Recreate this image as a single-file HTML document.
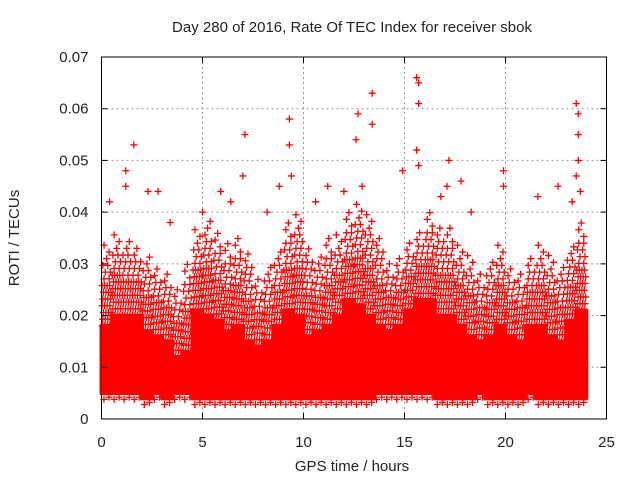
<!DOCTYPE html>
<html><head><meta charset="utf-8"><style>
body{margin:0;background:#fff;}
svg{display:block;font-family:"Liberation Sans",sans-serif;}
</style></head><body>
<svg id="c" width="640" height="480">
<text x="352" y="32" font-size="15" text-anchor="middle" fill="#222">Day 280 of 2016, Rate Of TEC Index for receiver sbok</text>
<text x="352" y="471" font-size="15" text-anchor="middle" fill="#222">GPS time / hours</text>
<text transform="translate(19,238) rotate(-90)" font-size="15" text-anchor="middle" fill="#222">ROTI / TECUs</text>
<g id="grid"></g><g id="marks"></g><g id="axes"></g>
</svg>
<script>
const xTicks=[0,5,10,15,20,25];
const yTicks=[0,0.01,0.02,0.03,0.04,0.05,0.06,0.07];
const yTickLabels=["0","0.01","0.02","0.03","0.04","0.05","0.06","0.07"];
// half-hour bins 0..23.5
const binStart=[0,0.5,1,1.5,2,2.5,3,3.5,4,4.5,5,5.5,6,6.5,7,7.5,8,8.5,9,9.5,10,10.5,11,11.5,12,12.5,13,13.5,14,14.5,15,15.5,16,16.5,17,17.5,18,18.5,19,19.5,20,20.5,21,21.5,22,22.5,23,23.5];
const bandLow=[0.005,0.005,0.005,0.005,0.004,0.005,0.004,0.005,0.005,0.004,0.004,0.004,0.004,0.004,0.004,0.004,0.004,0.004,0.004,0.004,0.004,0.004,0.004,0.004,0.004,0.004,0.004,0.005,0.005,0.005,0.005,0.005,0.005,0.004,0.004,0.004,0.004,0.005,0.004,0.004,0.004,0.004,0.005,0.004,0.004,0.004,0.004,0.004];
const solidTop=[0.018,0.020,0.020,0.020,0.017,0.016,0.015,0.012,0.013,0.021,0.020,0.019,0.017,0.018,0.015,0.014,0.015,0.018,0.021,0.020,0.016,0.017,0.018,0.020,0.023,0.022,0.020,0.018,0.017,0.018,0.021,0.023,0.023,0.020,0.020,0.018,0.016,0.015,0.016,0.018,0.016,0.015,0.018,0.018,0.016,0.015,0.019,0.021];
const sparseTop=[0.034,0.036,0.035,0.034,0.032,0.030,0.028,0.025,0.030,0.037,0.039,0.036,0.034,0.035,0.033,0.028,0.030,0.033,0.038,0.040,0.034,0.032,0.035,0.036,0.040,0.042,0.040,0.036,0.030,0.031,0.034,0.037,0.040,0.038,0.037,0.034,0.032,0.029,0.031,0.034,0.030,0.028,0.031,0.034,0.032,0.030,0.034,0.038];
const outT=[0.4,1.2,1.2,1.6,2.3,2.8,3.4,5.0,5.9,6.4,7.1,7.0,8.8,9.3,9.3,9.4,11.2,12.0,12.7,12.6,12.9,13.4,13.4,15.6,15.7,15.7,15.6,15.7,14.9,17.2,17.1,17.8,19.9,19.9,21.6,22.6,23.5,23.6,23.6,23.6,23.5,23.7,23.3,8.2,10.6,16.8,18.3];
const outV=[0.042,0.048,0.045,0.053,0.044,0.044,0.038,0.040,0.044,0.042,0.055,0.047,0.045,0.058,0.053,0.047,0.045,0.044,0.059,0.054,0.045,0.063,0.057,0.066,0.065,0.061,0.052,0.049,0.048,0.050,0.045,0.046,0.048,0.045,0.043,0.045,0.061,0.059,0.055,0.050,0.047,0.044,0.042,0.040,0.042,0.043,0.040];

const X0=101.5,X1=606.5,Y0=419,Y1=57;
const xs=t=>X0+(t-0)/25*(X1-X0);
const ys=v=>Y0-(v-0)/0.07*(Y0-Y1);
const NS="http://www.w3.org/2000/svg";
function mk(tag,attrs,parent){const e=document.createElementNS(NS,tag);for(const k in attrs)e.setAttribute(k,attrs[k]);parent.appendChild(e);return e;}
const grid=document.getElementById('grid'),marks=document.getElementById('marks'),axes=document.getElementById('axes');
xTicks.forEach((t,i)=>{
  if(i>0&&i<xTicks.length-1){const l=mk('line',{x1:xs(t),x2:xs(t),y1:Y0,y2:Y1,stroke:'#999','stroke-dasharray':'2,3'},grid);
  
  }
  const tx=mk('text',{x:xs(t),y:Y0+28,'font-size':15,'text-anchor':'middle',fill:'#222'},axes);tx.textContent=t;
  
  
  mk('line',{x1:xs(t),x2:xs(t),y1:Y0,y2:Y0-6,stroke:'#000'},axes);
  mk('line',{x1:xs(t),x2:xs(t),y1:Y1,y2:Y1+6,stroke:'#000'},axes);
});
yTicks.forEach((v,i)=>{
  if(i>0&&i<yTicks.length-1){const l=mk('line',{x1:X0,x2:X1,y1:ys(v),y2:ys(v),stroke:'#999','stroke-dasharray':'2,3'},grid);
  
  }
  const tx=mk('text',{x:X0-13,y:ys(v)+5,'font-size':15,'text-anchor':'end',fill:'#222'},axes);tx.textContent=yTickLabels[i];
  
  
  mk('line',{x1:X0,x2:X0+6,y1:ys(v),y2:ys(v),stroke:'#000'},axes);
  mk('line',{x1:X1,x2:X1-6,y1:ys(v),y2:ys(v),stroke:'#000'},axes);
});
const frame=mk('rect',{x:X0,y:Y1,width:X1-X0,height:Y0-Y1,fill:'none',stroke:'#000','stroke-width':1},axes);



function cross(t,v){
  const x=xs(t),y=ys(v);
  const p=mk('path',{d:`M${x-3.5},${y}h7M${x},${y-3.5}v7`,stroke:'#f00','stroke-width':1.3},marks);
  
  
}
// dense band
let pts=[];
binStart.forEach((t,i)=>{pts.push([xs(t),ys(solidTop[i])]);pts.push([xs(t+0.5),ys(solidTop[i])]);});
for(let i=binStart.length-1;i>=0;i--){pts.push([xs(binStart[i]+0.5),ys(bandLow[i])]);pts.push([xs(binStart[i]),ys(bandLow[i])]);}
const band=mk('polygon',{points:pts.map(p=>p.join(',')).join(' '),fill:'#f00',stroke:'#f00','stroke-width':4,'stroke-linejoin':'round'},marks);


binStart.forEach((t,i)=>{
  let k=0;
  const mid=(solidTop[i]+sparseTop[i])/2;
  for(let v=solidTop[i];v<=sparseTop[i];v+=0.0013){
    const n=v>mid?(v>mid+(sparseTop[i]-mid)*0.6?1:2):4;
    for(let j=0;j<n;j++){cross(t+((j+0.25+(k%3)*0.25)/n)*0.5,v);}
    k++;
  }
  cross(t+0.12,bandLow[i]-0.0012);
  cross(t+0.37,bandLow[i]-0.0008);
});
outT.forEach((t,i)=>cross(t,outV[i]));
</script>
</body></html>
